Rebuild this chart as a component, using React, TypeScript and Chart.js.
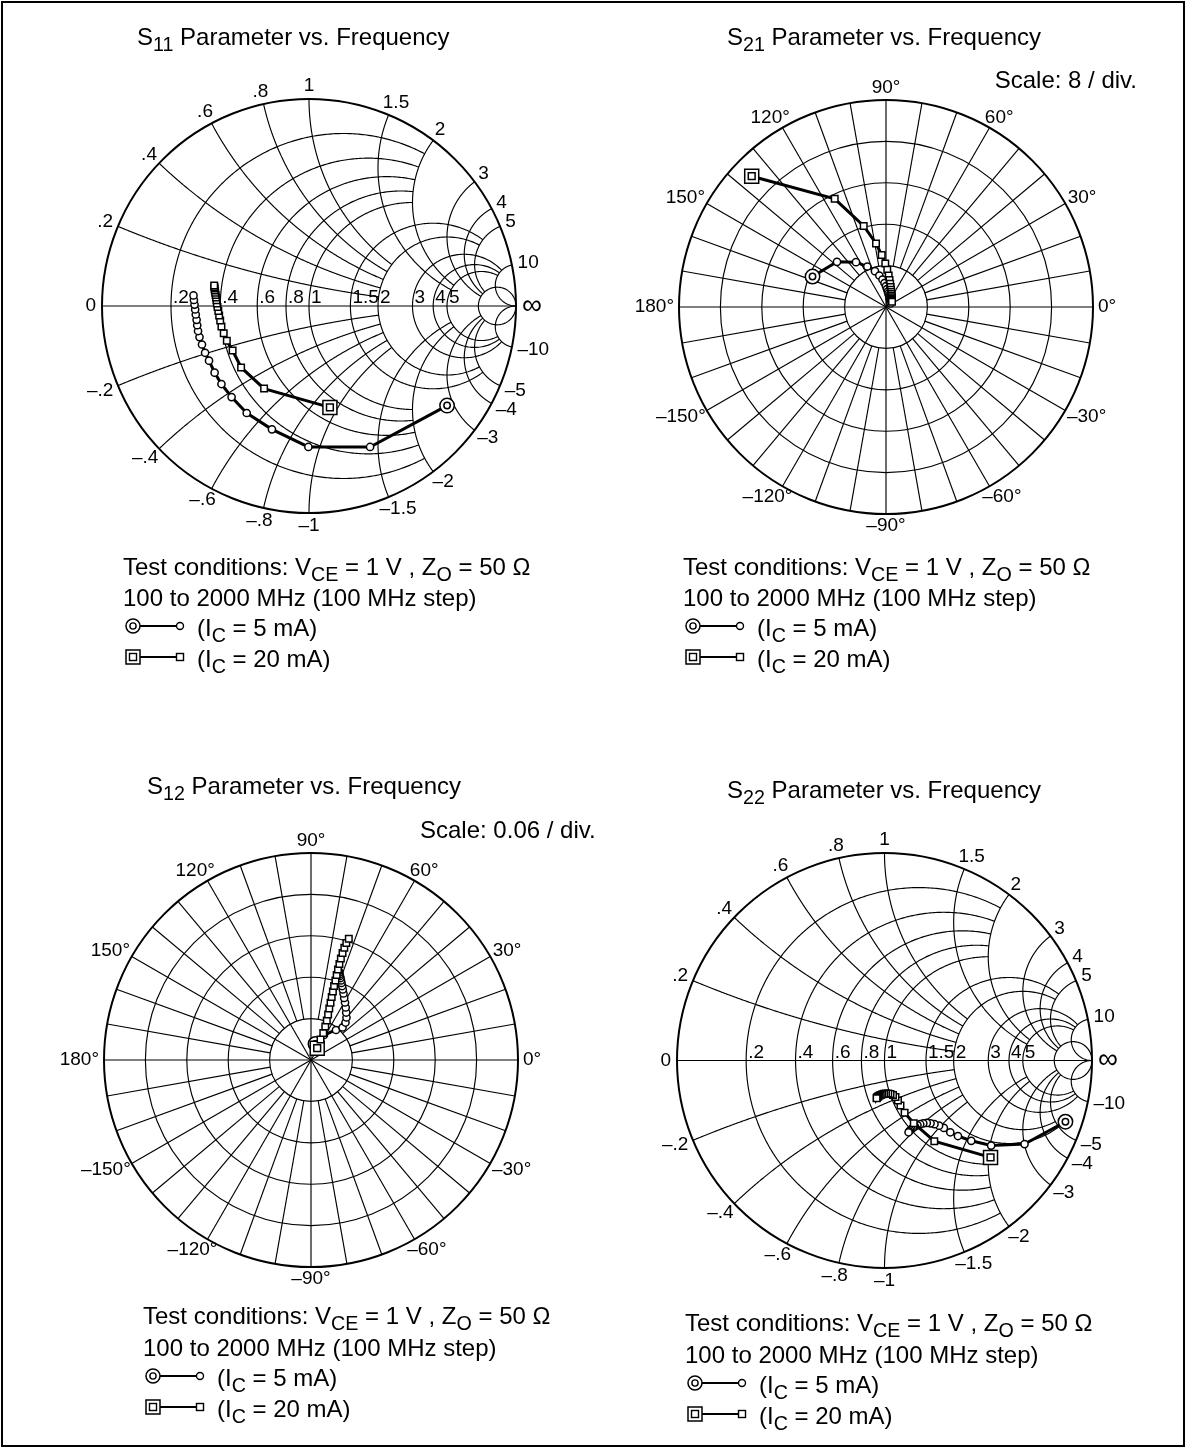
import React, { useEffect, useRef } from "react";
import { Chart, registerables } from "chart.js";

Chart.register(...registerables);

const FONT = '"Liberation Sans", Arial, Helvetica, sans-serif';

// Frequencies: 100 to 2000 MHz, 100 MHz step (index 0 = 100 MHz)
const freqsMHz = [100, 200, 300, 400, 500, 600, 700, 800, 900, 1000, 1100, 1200, 1300, 1400, 1500, 1600, 1700, 1800, 1900, 2000];

// ---- S11 (reflection coefficient, real / imaginary parts)
const s11Re_5mA = [0.667, 0.295, -0.003, -0.179, -0.301, -0.374, -0.423, -0.456, -0.483, -0.502, -0.517, -0.529, -0.536, -0.54, -0.543, -0.547, -0.55, -0.553, -0.556, -0.558];
const s11Im_5mA = [-0.481, -0.681, -0.681, -0.596, -0.517, -0.44, -0.377, -0.322, -0.264, -0.226, -0.186, -0.15, -0.121, -0.093, -0.067, -0.041, -0.017, 0.007, 0.029, 0.051];
const s11Re_20mA = [0.101, -0.217, -0.328, -0.369, -0.397, -0.412, -0.423, -0.429, -0.434, -0.438, -0.442, -0.445, -0.447, -0.449, -0.451, -0.453, -0.455, -0.456, -0.457, -0.458];
const s11Im_20mA = [-0.49, -0.399, -0.297, -0.215, -0.168, -0.132, -0.099, -0.07, -0.046, -0.024, -0.005, 0.012, 0.028, 0.041, 0.053, 0.064, 0.075, 0.084, 0.092, 0.099];

// ---- S21 (linear, real / imaginary)
const s21Re_5mA = [-14.2, -9.47, -5.8, -3.61, -2.13, -1.29, -0.68, -0.29, 0.0, 0.19, 0.35, 0.48, 0.58, 0.66, 0.71, 0.77, 0.81, 0.85, 0.87, 0.89];
const s21Im_5mA = [5.89, 8.73, 8.66, 7.83, 6.92, 6.09, 5.31, 4.64, 4.02, 3.48, 3.0, 2.57, 2.22, 1.91, 1.64, 1.41, 1.2, 1.0, 0.83, 0.68];
const s21Re_20mA = [-25.95, -9.91, -4.31, -1.93, -0.83, -0.14, 0.25, 0.52, 0.68, 0.81, 0.89, 0.97, 1.02, 1.06, 1.1, 1.12, 1.14, 1.16, 1.16, 1.16];
const s21Im_20mA = [25.27, 20.91, 15.65, 12.27, 10.05, 8.41, 7.19, 6.09, 5.22, 4.48, 3.86, 3.34, 2.9, 2.51, 2.18, 1.89, 1.64, 1.41, 1.2, 1.0];

// ---- S12 (linear, real / imaginary)
const s12Re_5mA = [0.0065, 0.0188, 0.0362, 0.0457, 0.05, 0.0514, 0.051, 0.0503, 0.0493, 0.0481, 0.0471, 0.0461, 0.0452, 0.0442, 0.0435, 0.0428, 0.042, 0.0414, 0.0409, 0.0403];
const s12Im_5mA = [0.0232, 0.0362, 0.0435, 0.0471, 0.0543, 0.0616, 0.0688, 0.0761, 0.0833, 0.0899, 0.0964, 0.1022, 0.1072, 0.1116, 0.1152, 0.1188, 0.1217, 0.1243, 0.1268, 0.129];
const s12Re_20mA = [0.009, 0.0138, 0.0178, 0.0207, 0.0229, 0.0248, 0.0265, 0.0283, 0.03, 0.0317, 0.0335, 0.0354, 0.0372, 0.0391, 0.0412, 0.0433, 0.0457, 0.0483, 0.0512, 0.0548];
const s12Im_20mA = [0.0171, 0.0297, 0.0391, 0.0486, 0.0572, 0.0659, 0.0746, 0.083, 0.0913, 0.0993, 0.1072, 0.1152, 0.1232, 0.1312, 0.1391, 0.1471, 0.1551, 0.1626, 0.1696, 0.1757];

// ---- S22 (reflection coefficient, real / imaginary)
const s22Re_5mA = [0.872, 0.675, 0.514, 0.418, 0.354, 0.317, 0.286, 0.263, 0.241, 0.222, 0.204, 0.187, 0.172, 0.159, 0.147, 0.138, 0.13, 0.124, 0.119, 0.116];
const s22Im_5mA = [-0.295, -0.403, -0.41, -0.387, -0.364, -0.346, -0.325, -0.314, -0.307, -0.303, -0.301, -0.303, -0.307, -0.312, -0.318, -0.324, -0.331, -0.336, -0.341, -0.346];
const s22Re_20mA = [0.511, 0.24, 0.141, 0.097, 0.077, 0.065, 0.053, 0.041, 0.029, 0.018, 0.007, -0.002, -0.011, -0.018, -0.024, -0.029, -0.032, -0.035, -0.037, -0.038];
const s22Im_20mA = [-0.467, -0.389, -0.302, -0.252, -0.217, -0.193, -0.176, -0.166, -0.161, -0.159, -0.159, -0.16, -0.163, -0.166, -0.169, -0.172, -0.175, -0.177, -0.18, -0.182];

// ---- grid / tick definitions
const smithValues = [0.2, 0.4, 0.6, 0.8, 1, 1.5, 2, 3, 4, 5, 10];
const smithAxisLabels = [".2", ".4", ".6", ".8", "1", "1.5", "2", "3", "4", "5"];
const smithRimLabels = [".2", ".4", ".6", ".8", "1", "1.5", "2", "3", "4", "5", "10"];
const polarAngles = [0, 30, 60, 90, 120, 150, 180, -150, -120, -90, -60, -30];
const polarRings = 5;

const LABEL_PX = 19;

type Pt = { x: number; y: number };
const toPts = (re: number[], im: number[]): Pt[] => re.map((v, i) => ({ x: v, y: im[i] }));

function makeDatasets(re5: number[], im5: number[], re20: number[], im20: number[]) {
  const a = toPts(re5, im5);
  const b = toPts(re20, im20);
  const common = {
    borderColor: "#000",
    pointBackgroundColor: "#fff",
    pointBorderColor: "#000",
    pointBorderWidth: 1.5,
    clip: false,
  };
  return [
    { ...common, label: "IC = 20 mA (100 MHz)", data: [b[0]], showLine: false, pointStyle: "rect", pointRadius: 4.8, order: 0 },
    { ...common, label: "IC = 20 mA", data: b, showLine: true, borderWidth: 3, pointStyle: "rect", pointRadius: b.map((_, i) => (i === 0 ? 9.9 : 4.6)), order: 1 },
    { ...common, label: "IC = 5 mA (100 MHz)", data: [a[0]], showLine: false, pointStyle: "circle", pointRadius: 3.2, order: 2 },
    { ...common, label: "IC = 5 mA", data: a, showLine: true, borderWidth: 3, pointStyle: "circle", pointRadius: a.map((_, i) => (i === 0 ? 7.2 : 3.6)), order: 3 },
  ];
}

const neg = (s: string) => "\u2013" + s;

function smithPlugin() {
  return {
    id: "smithGrid",
    beforeDatasetsDraw(chart: any) {
      const ctx: CanvasRenderingContext2D = chart.ctx;
      const xs = chart.scales.x;
      const ys = chart.scales.y;
      const P = (u: number, v: number) => [xs.getPixelForValue(u), ys.getPixelForValue(v)];
      const gam = (r: number, x: number) => {
        const d = (r + 1) * (r + 1) + x * x;
        return [(r * r + x * x - 1) / d, (2 * x) / d];
      };
      const curve = (f: (t: number) => number[], t0: number, t1: number, n = 400) => {
        ctx.beginPath();
        for (let i = 0; i <= n; i++) {
          const t = t0 + ((t1 - t0) * i) / n;
          const [u, v] = f(t);
          const [px, py] = P(u, v);
          if (i === 0) ctx.moveTo(px, py);
          else ctx.lineTo(px, py);
        }
        ctx.stroke();
      };
      const lim = (v: number) => (v <= 1 ? 2 : v <= 2 ? 5 : v <= 5 ? 10 : Infinity);
      const tl = (L: number) => (L === Infinity ? Math.PI / 2 - 1e-7 : Math.atan(L));
      const [cx, cy] = P(0, 0);
      const Rpx = P(1, 0)[0] - cx;

      ctx.save();
      ctx.strokeStyle = "#000";
      ctx.lineWidth = 1.15;
      for (const r of smithValues) {
        const T = tl(lim(r));
        curve((t) => gam(r, Math.tan(t)), -T, T);
      }
      for (const x of smithValues) {
        const T = tl(lim(x));
        curve((t) => gam(Math.tan(t), x), 0, T);
        curve((t) => gam(Math.tan(t), -x), 0, T);
      }
      const [ax0, ay0] = P(-1, 0);
      const [ax1, ay1] = P(1, 0);
      ctx.beginPath();
      ctx.moveTo(ax0, ay0);
      ctx.lineTo(ax1, ay1);
      ctx.stroke();
      ctx.lineWidth = 2;
      ctx.beginPath();
      ctx.arc(cx, cy, Rpx, 0, Math.PI * 2);
      ctx.stroke();

      ctx.fillStyle = "#000";
      ctx.font = `${LABEL_PX}px ${FONT}`;
      ctx.textAlign = "left";
      ctx.textBaseline = "alphabetic";
      smithAxisLabels.forEach((lab, i) => {
        const r = smithValues[i];
        const [px, py] = P((r - 1) / (r + 1), 0);
        ctx.fillText(lab, px + 2, py - 3);
      });
      ctx.textAlign = "center";
      ctx.textBaseline = "middle";
      const place = (txt: string, u: number, v: number, font = LABEL_PX) => {
        ctx.font = `${font}px ${FONT}`;
        const [px, py] = P(u, v);
        const ux = (px - cx) / Rpx;
        const uy = (py - cy) / Rpx;
        const w = ctx.measureText(txt).width;
        const h = 13.5;
        ctx.fillText(txt, px + ux * 6 + (ux * w) / 2, py + uy * 6 + (uy * h) / 2);
      };
      smithRimLabels.forEach((lab, i) => {
        const x = smithValues[i];
        const [u1, v1] = gam(0, x);
        place(lab, u1, v1);
        const [u2, v2] = gam(0, -x);
        place(neg(lab), u2, v2);
      });
      place("0", -1, 0);
      place("\u221E", 1, 0, 28);
      ctx.restore();
    },
  };
}

function polarPlugin(div: number) {
  return {
    id: "polarGrid",
    beforeDatasetsDraw(chart: any) {
      const ctx: CanvasRenderingContext2D = chart.ctx;
      const xs = chart.scales.x;
      const ys = chart.scales.y;
      const P = (u: number, v: number) => [xs.getPixelForValue(u), ys.getPixelForValue(v)];
      const [cx, cy] = P(0, 0);
      const rpx = (m: number) => xs.getPixelForValue(m) - cx;
      const outer = polarRings * div;
      ctx.save();
      ctx.strokeStyle = "#000";
      for (let k = 1; k <= polarRings; k++) {
        ctx.lineWidth = k === polarRings ? 2 : 1.15;
        ctx.beginPath();
        ctx.arc(cx, cy, rpx(k * div), 0, Math.PI * 2);
        ctx.stroke();
      }
      ctx.lineWidth = 1.15;
      for (let a = 0; a < 360; a += 10) {
        const r0 = a % 30 === 0 ? 0 : div;
        const rad = (a * Math.PI) / 180;
        const [x0, y0] = P(r0 * Math.cos(rad), r0 * Math.sin(rad));
        const [x1, y1] = P(outer * Math.cos(rad), outer * Math.sin(rad));
        ctx.beginPath();
        ctx.moveTo(x0, y0);
        ctx.lineTo(x1, y1);
        ctx.stroke();
      }
      ctx.fillStyle = "#000";
      ctx.font = `${LABEL_PX}px ${FONT}`;
      ctx.textAlign = "center";
      ctx.textBaseline = "middle";
      const Rpx = rpx(outer);
      for (const a of polarAngles) {
        const txt = (a < 0 ? neg(String(-a)) : String(a)) + "\u00B0";
        const rad = (a * Math.PI) / 180;
        const ux = Math.cos(rad);
        const uy = -Math.sin(rad);
        const w = ctx.measureText(txt).width;
        const h = 13.5;
        const gap = 5;
        ctx.fillText(txt, cx + ux * (Rpx + gap) + (ux * w) / 2, cy + uy * (Rpx + gap) + (uy * h) / 2);
      }
      ctx.restore();
    },
  };
}

const PAD = 62;

type PanelProps = {
  kind: "smith" | "polar";
  cx: number;
  cy: number;
  R: number;
  max: number;
  div?: number;
  series: number[][];
};

function ChartPanel({ kind, cx, cy, R, max, div, series }: PanelProps) {
  const ref = useRef<HTMLCanvasElement>(null);
  const W = Math.round(2 * R + 2 * PAD);
  useEffect(() => {
    const canvas = ref.current;
    if (!canvas) return;
    const [re5, im5, re20, im20] = series;
    const chart = new Chart(canvas, {
      type: "scatter",
      data: { datasets: makeDatasets(re5, im5, re20, im20) as any },
      options: {
        responsive: false,
        animation: false,
        devicePixelRatio: 1,
        events: [],
        layout: { padding: PAD },
        elements: { line: { tension: 0 } },
        scales: {
          x: { type: "linear", min: -max, max: max, display: false },
          y: { type: "linear", min: -max, max: max, display: false },
        },
        plugins: { legend: { display: false }, tooltip: { enabled: false } },
      },
      plugins: [kind === "smith" ? smithPlugin() : polarPlugin(div || max / 5)] as any,
    });
    return () => chart.destroy();
  }, []);
  return (
    <canvas
      ref={ref}
      width={W}
      height={W}
      style={{ position: "absolute", left: cx - R - PAD, top: cy - R - PAD, width: W, height: W }}
    />
  );
}

const Sub = ({ children }: { children: any }) => (
  <span style={{ fontSize: "0.82em", position: "relative", top: "0.3em" }}>{children}</span>
);

function Txt({ x, y, children, size = 24, right }: { x: number; y: number; children: any; size?: number; right?: boolean }) {
  const style: any = {
    position: "absolute",
    top: y - size / 2,
    fontSize: size,
    lineHeight: `${size}px`,
    fontFamily: FONT,
    whiteSpace: "nowrap",
    color: "#000",
  };
  if (right) {
    style.left = x - 500;
    style.width = 500;
    style.textAlign = "right";
  } else style.left = x;
  return <div style={style}>{children}</div>;
}

function LegendMark({ x, y, square }: { x: number; y: number; square?: boolean }) {
  return (
    <svg width={74} height={24} style={{ position: "absolute", left: x - 12, top: y - 12 }}>
      <line x1={12} y1={12} x2={59} y2={12} stroke="#000" strokeWidth={2.2} />
      {square ? (
        <>
          <rect x={5} y={5} width={14} height={14} fill="#fff" stroke="#000" strokeWidth={1.5} />
          <rect x={8.5} y={8.5} width={7} height={7} fill="#fff" stroke="#000" strokeWidth={1.4} />
          <rect x={55.5} y={8.5} width={7} height={7} fill="#fff" stroke="#000" strokeWidth={1.4} />
        </>
      ) : (
        <>
          <circle cx={12} cy={12} r={7} fill="#fff" stroke="#000" strokeWidth={1.5} />
          <circle cx={12} cy={12} r={3.1} fill="#fff" stroke="#000" strokeWidth={1.4} />
          <circle cx={59} cy={12} r={3.5} fill="#fff" stroke="#000" strokeWidth={1.4} />
        </>
      )}
    </svg>
  );
}

function TextBlock({ name, tx, ty, left, ys }: { name: string; tx: number; ty: number; left: number; ys: number[] }) {
  return (
    <>
      <Txt x={tx} y={ty}>
        S<Sub>{name}</Sub> Parameter vs. Frequency
      </Txt>
      <Txt x={left} y={ys[0]}>
        Test conditions: V<Sub>CE</Sub> = 1 V , Z<Sub>O</Sub> = 50 Ω
      </Txt>
      <Txt x={left} y={ys[1]}>100 to 2000 MHz (100 MHz step)</Txt>
      <LegendMark x={left + 10} y={ys[2] - 2} />
      <Txt x={left + 74} y={ys[2]}>
        (I<Sub>C</Sub> = 5 mA)
      </Txt>
      <LegendMark x={left + 10} y={ys[3] - 2} square />
      <Txt x={left + 74} y={ys[3]}>
        (I<Sub>C</Sub> = 20 mA)
      </Txt>
    </>
  );
}

export default function App() {
  return (
    <div
      style={{
        position: "absolute",
        left: 0,
        top: 0,
        width: 1187,
        height: 1450,
        background: "#fff",
        overflow: "hidden",
      }}
    >
      <div
        style={{
          position: "absolute",
          left: 1,
          top: 1,
          width: 1184,
          height: 1446,
          border: "2px solid #000",
          boxSizing: "border-box",
        }}
      />
      <ChartPanel kind="smith" cx={309} cy={306} R={207} max={1} series={[s11Re_5mA, s11Im_5mA, s11Re_20mA, s11Im_20mA]} />
      <ChartPanel kind="polar" cx={886} cy={306.5} R={207} max={40} div={8} series={[s21Re_5mA, s21Im_5mA, s21Re_20mA, s21Im_20mA]} />
      <ChartPanel kind="polar" cx={310.5} cy={1059.5} R={207} max={0.3} div={0.06} series={[s12Re_5mA, s12Im_5mA, s12Re_20mA, s12Im_20mA]} />
      <ChartPanel kind="smith" cx={884} cy={1060} R={207.5} max={1} series={[s22Re_5mA, s22Im_5mA, s22Re_20mA, s22Im_20mA]} />

      <TextBlock name="11" tx={137} ty={37} left={123} ys={[567, 598, 628, 659]} />
      <TextBlock name="21" tx={727} ty={37} left={683} ys={[567, 598, 628, 659]} />
      <TextBlock name="12" tx={147} ty={786} left={143} ys={[1316, 1348, 1378, 1409]} />
      <TextBlock name="22" tx={727} ty={790} left={685} ys={[1323, 1355, 1385, 1416]} />

      <Txt x={1137} y={80} right>
        Scale: 8 / div.
      </Txt>
      <Txt x={420} y={830}>
        Scale: 0.06 / div.
      </Txt>
    </div>
  );
}
